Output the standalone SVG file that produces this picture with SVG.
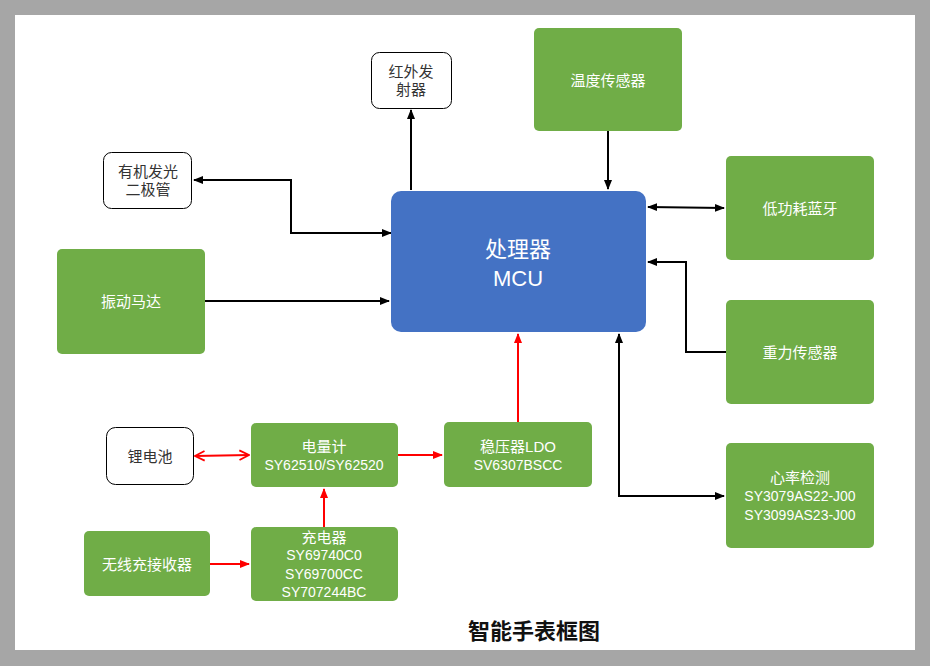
<svg xmlns="http://www.w3.org/2000/svg" width="930" height="666" viewBox="0 0 930 666">
<style>
.g{fill:#70ad47;}
.w{fill:#ffffff;stroke:#000;stroke-width:1;}
.t{font-family:"Liberation Sans","Noto Sans CJK SC",sans-serif;font-size:15px;text-anchor:middle;dominant-baseline:central;}
.s{font-size:14px;}
.tw{fill:#ffffff;}
.tb{fill:#333333;}
.k{fill:none;stroke:#000;stroke-width:2;}
.r{fill:none;stroke:#ff0000;stroke-width:2;}
</style>
<defs>
<marker id="ak" viewBox="0 0 10 10" refX="9" refY="5" markerWidth="5" markerHeight="5" orient="auto-start-reverse" markerUnits="strokeWidth"><path d="M0,1 L10,5 L0,9 z" fill="#000"/></marker>
<marker id="ar" viewBox="0 0 10 10" refX="9" refY="5" markerWidth="5" markerHeight="5" orient="auto-start-reverse" markerUnits="strokeWidth"><path d="M0,1 L10,5 L0,9 z" fill="#ff0000"/></marker>
<marker id="aro" viewBox="0 0 10 10" refX="9" refY="5" markerWidth="6" markerHeight="6" orient="auto-start-reverse" markerUnits="strokeWidth"><path d="M1,1 L9,5 L1,9" fill="none" stroke="#ff0000" stroke-width="1.5"/></marker>
</defs>
<rect x="0" y="0" width="930" height="666" fill="#a6a6a6"/>
<rect x="15" y="15" width="900" height="635" fill="#ffffff"/>

<g id="connectors">
<path class="k" d="M391,233 H291 V180 H194" marker-start="url(#ak)" marker-end="url(#ak)"/>
<path class="k" d="M411,190 V110" marker-end="url(#ak)"/>
<path class="k" d="M608,131 V189" marker-end="url(#ak)"/>
<path class="k" d="M648,207 L724,208" marker-start="url(#ak)" marker-end="url(#ak)"/>
<path class="k" d="M726,352 H686 V262 H648" marker-end="url(#ak)"/>
<path class="k" d="M619,334 V496 H724" marker-start="url(#ak)"/>
<path class="k" d="M619,496 H724" marker-end="url(#ak)"/>
<path class="k" d="M205,301 H389" marker-end="url(#ak)"/>
<path class="r" d="M518,422 V334" marker-end="url(#ar)"/>
<path class="r" d="M398,455 H442" marker-end="url(#ar)"/>
<path class="r" d="M195,456 L249,455" marker-start="url(#aro)" marker-end="url(#aro)"/>
<path class="r" d="M324,527 V489" marker-end="url(#ar)"/>
<path class="r" d="M210,564 H249" marker-end="url(#ar)"/>
</g>

<g id="mcu">
<rect x="391" y="191" width="255" height="141" rx="10" fill="#4472c4"/>
<text class="t tw" x="518" y="249" style="font-size:22px">处理器</text>
<text class="t tw" x="518" y="278" style="font-size:22px">MCU</text>
</g>
<g id="ir">
<rect class="w" x="371.5" y="52.5" width="80" height="56" rx="8"/>
<text class="t tb" x="411" y="71">红外发</text>
<text class="t tb" x="411" y="89">射器</text>
</g>
<g id="oled">
<rect class="w" x="103.5" y="152.5" width="88" height="56" rx="8"/>
<text class="t tb" x="148" y="171">有机发光</text>
<text class="t tb" x="148" y="189">二极管</text>
</g>
<g id="temp">
<rect class="g" x="534" y="28" width="148" height="103" rx="5"/>
<text class="t tw" x="608" y="80">温度传感器</text>
</g>
<g id="ble">
<rect class="g" x="726" y="156" width="148" height="104" rx="5"/>
<text class="t tw" x="800" y="208">低功耗蓝牙</text>
</g>
<g id="gravity">
<rect class="g" x="726" y="300" width="148" height="104" rx="5"/>
<text class="t tw" x="800" y="352">重力传感器</text>
</g>
<g id="heart">
<rect class="g" x="726" y="443" width="148" height="105" rx="5"/>
<text class="t tw" x="800" y="477">心率检测</text>
<text class="t tw s" x="800" y="496">SY3079AS22-J00</text>
<text class="t tw s" x="800" y="515">SY3099AS23-J00</text>
</g>
<g id="motor">
<rect class="g" x="57" y="249" width="148" height="105" rx="5"/>
<text class="t tw" x="131" y="301">振动马达</text>
</g>
<g id="ldo">
<rect class="g" x="444" y="422" width="148" height="65" rx="5"/>
<text class="t tw" x="518" y="446">稳压器LDO</text>
<text class="t tw s" x="518" y="465">SV6307BSCC</text>
</g>
<g id="fuel">
<rect class="g" x="251" y="423" width="147" height="64" rx="5"/>
<text class="t tw" x="324" y="446">电量计</text>
<text class="t tw s" x="324" y="465">SY62510/SY62520</text>
</g>
<g id="battery">
<rect class="w" x="106.5" y="427.5" width="87" height="57" rx="9"/>
<text class="t tb" x="150" y="456">锂电池</text>
</g>
<g id="charger">
<rect class="g" x="251" y="527" width="147" height="74" rx="5"/>
<text class="t tw" x="324" y="537">充电器</text>
<text class="t tw s" x="324" y="555">SY69740C0</text>
<text class="t tw s" x="324" y="574">SY69700CC</text>
<text class="t tw s" x="324" y="592">SY707244BC</text>
</g>
<g id="wireless">
<rect class="g" x="84" y="531" width="126" height="65" rx="5"/>
<text class="t tw" x="147" y="564">无线充接收器</text>
</g>
<g id="title">
<text class="t" x="534" y="631" style="font-size:22px;font-weight:bold;fill:#111">智能手表框图</text>
</g>
</svg>
